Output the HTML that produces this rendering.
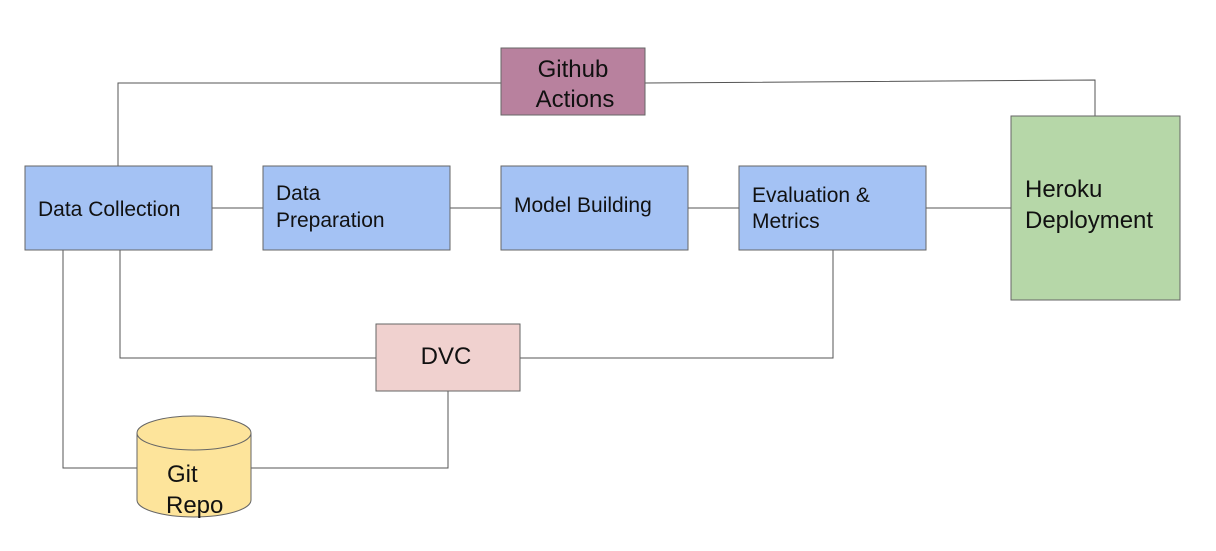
<!DOCTYPE html>
<html><head><meta charset="utf-8"><style>
html,body{margin:0;padding:0;background:#fff;}
svg{display:block;}
text{font-family:"Liberation Sans",Arial,sans-serif;fill:#111;}
</style></head><body>
<svg width="1216" height="551" viewBox="0 0 1216 551" xmlns="http://www.w3.org/2000/svg">
<g stroke="#555" stroke-width="1" fill="none">
<polyline points="118,166 118,83 501,83"/>
<polyline points="645,83 1095,80 1095,116"/>
<line x1="212" y1="208" x2="263" y2="208"/>
<line x1="450" y1="208" x2="501" y2="208"/>
<line x1="688" y1="208" x2="739" y2="208"/>
<line x1="926" y1="208" x2="1011" y2="208"/>
<polyline points="120,250 120,358 376,358"/>
<polyline points="520,358 833,358 833,250"/>
<polyline points="63,250 63,468 137,468"/>
<polyline points="251,468 448,468 448,391"/>
</g>
<g stroke="#666" stroke-width="1">
<rect x="501" y="48" width="144" height="67" fill="#b8819e"/>
<rect x="25" y="166" width="187" height="84" fill="#a4c2f4"/>
<rect x="263" y="166" width="187" height="84" fill="#a4c2f4"/>
<rect x="501" y="166" width="187" height="84" fill="#a4c2f4"/>
<rect x="739" y="166" width="187" height="84" fill="#a4c2f4"/>
<rect x="1011" y="116" width="169" height="184" fill="#b6d7a8"/>
<rect x="376" y="324" width="144" height="67" fill="#f0d1cf"/>
<path d="M137,433 L137,500 A57,17 0 0 0 251,500 L251,433 A57,17 0 0 0 137,433 Z" fill="#fde49b"/>
<path d="M137,433 A57,17 0 0 0 251,433" fill="none"/>
</g>
<g font-size="24">
<text x="573" y="77" text-anchor="middle">Github</text>
<text x="575" y="107" text-anchor="middle">Actions</text>
<text x="1025" y="197">Heroku</text>
<text x="1025" y="228">Deployment</text>
<text x="446" y="364" text-anchor="middle">DVC</text>
<text x="167" y="482">Git</text>
<text x="166" y="513">Repo</text>
</g>
<g font-size="21">
<text x="38" y="216">Data Collection</text>
<text x="276" y="200">Data</text>
<text x="276" y="227">Preparation</text>
<text x="514" y="212">Model Building</text>
<text x="752" y="202">Evaluation &amp;</text>
<text x="752" y="228">Metrics</text>
</g>
</svg>
</body></html>
